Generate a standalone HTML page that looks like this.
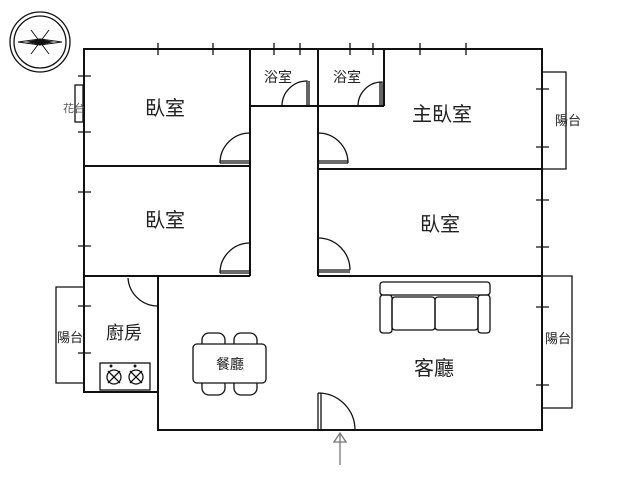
<!DOCTYPE html>
<html><head><meta charset="utf-8"><style>
html,body{margin:0;padding:0;background:#fff}
svg text{font-family:"Liberation Sans","Noto Sans CJK TC",sans-serif;fill:#222}
</style></head><body>
<svg width="640" height="480" viewBox="0 0 640 480" xmlns="http://www.w3.org/2000/svg">
<g fill="none" stroke="#111" stroke-width="2">
<!-- outer walls -->
<path d="M84 49 H542 V430 H158 V392 H84 Z"/>
<!-- interior -->
<path d="M84 166 H250"/>
<path d="M84 276 H250"/>
<path d="M250 49 V276"/>
<path d="M318 49 V276"/>
<path d="M384 49 V106"/>
<path d="M250 106 H384"/>
<path d="M318 169 H542"/>
<path d="M318 276 H542"/>
<path d="M158 276 V392"/>
</g>
<g fill="none" stroke="#111" stroke-width="1.3">
<!-- balconies -->
<path d="M542 72 H566 V169 H542"/>
<path d="M542 276 H572 V408 H542"/>
<path d="M84 287 H56 V383 H84"/>
<rect x="75" y="85" width="8" height="37"/>
<!-- window marks -->
<path d="M158 43 V55 M213 43 V55 M158 49 H213 M300 43 V55 M274 43 V55 M350 43 V55 M373 43 V55 M420 43 V55 M466 43 V55 M420 49 H466"/>
<path d="M78 76 H91 M78 132 H91 M78 192 H91 M78 246 H91 M78 306 H91 M78 353 H91"/>
<path d="M536 89 H549 M536 147 H549 M536 200 H549 M536 247 H549 M536 307 H549 M536 385 H549"/>
<!-- doors -->
<path d="M220 163 A30 30 0 0 1 250 133 M220 163 H250 M220 161 H250"/>
<path d="M220 273 A30 30 0 0 1 250 243 M220 273 H250 M220 271 H250"/>
<path d="M318 133 A30 30 0 0 1 348 163 M318 163 H348 M318 161 H348"/>
<path d="M318 238 A32 32 0 0 1 350 270 M318 270 H350 M318 272 H350"/>
<path d="M282 106 A25 25 0 0 1 307 81 V106 M309 81 V106"/>
<path d="M358 106 A24 24 0 0 1 382 82 V106 M380 82 V106"/>
<path d="M128 278 A30 30 0 0 0 158 306"/>
<path d="M318 393 A37 37 0 0 1 355 430 M318 393 V430 M321 393 V430"/>
<!-- arrow -->
<path d="M340 465 V434 M334 442 L340 433 L346 442 Z" stroke="#777"/>
<!-- sofa -->
<rect x="380" y="282" width="110" height="13" rx="3"/>
<rect x="380" y="295" width="12" height="38" rx="3"/>
<rect x="478" y="295" width="12" height="38" rx="3"/>
<rect x="392" y="297" width="43" height="33" rx="3"/>
<rect x="435" y="297" width="43" height="33" rx="3"/>
<!-- table and chairs -->
<path d="M202 345 V340 A7 7 0 0 1 209 333 H218 A7 7 0 0 1 225 340 V345"/>
<path d="M234 345 V340 A7 7 0 0 1 241 333 H250 A7 7 0 0 1 257 340 V345"/>
<path d="M202 382 V388 A7 7 0 0 0 209 395 H218 A7 7 0 0 0 225 388 V382"/>
<path d="M234 382 V388 A7 7 0 0 0 241 395 H250 A7 7 0 0 0 257 388 V382"/>
<rect x="193" y="344" width="73" height="39" rx="4" fill="#fff"/>
<!-- stove -->
<rect x="100" y="363" width="50" height="27"/>
<circle cx="114" cy="377" r="7"/><circle cx="136" cy="377" r="7"/>
<path d="M108 371 L120 383 M120 371 L108 383 M130 371 L142 383 M142 371 L130 383"/>
<!-- compass -->
<circle cx="40" cy="42" r="30"/><circle cx="40" cy="42" r="26"/>
<path d="M18 42 L40 39 L62 42 L40 45 Z M31 30 L40 42 L49 54 M49 30 L40 42 L31 54" stroke-width="1"/>
</g>
<circle cx="111" cy="366" r="1.5" fill="#111"/><circle cx="135" cy="366" r="1.5" fill="#111"/>
<path d="M26 42 L40 39 L54 42 L40 45 Z" fill="#111"/>
<text x="165" y="115" font-size="20" text-anchor="middle">臥室</text>
<text x="165" y="227" font-size="20" text-anchor="middle">臥室</text>
<text x="442" y="121" font-size="20" text-anchor="middle">主臥室</text>
<text x="440" y="231" font-size="20" text-anchor="middle">臥室</text>
<text x="278" y="82" font-size="14" text-anchor="middle">浴室</text>
<text x="347" y="82" font-size="14" text-anchor="middle">浴室</text>
<text x="124" y="339" font-size="18" text-anchor="middle">廚房</text>
<text x="230" y="369" font-size="14" text-anchor="middle">餐廳</text>
<text x="434" y="375" font-size="20" text-anchor="middle">客廳</text>
<text x="568" y="125" font-size="13" text-anchor="middle">陽台</text>
<text x="558" y="343" font-size="13" text-anchor="middle">陽台</text>
<text x="70" y="342" font-size="13" text-anchor="middle">陽台</text>
<text x="74" y="112" font-size="11" text-anchor="middle" style="fill:#555">花台</text>
</svg>
</body></html>
